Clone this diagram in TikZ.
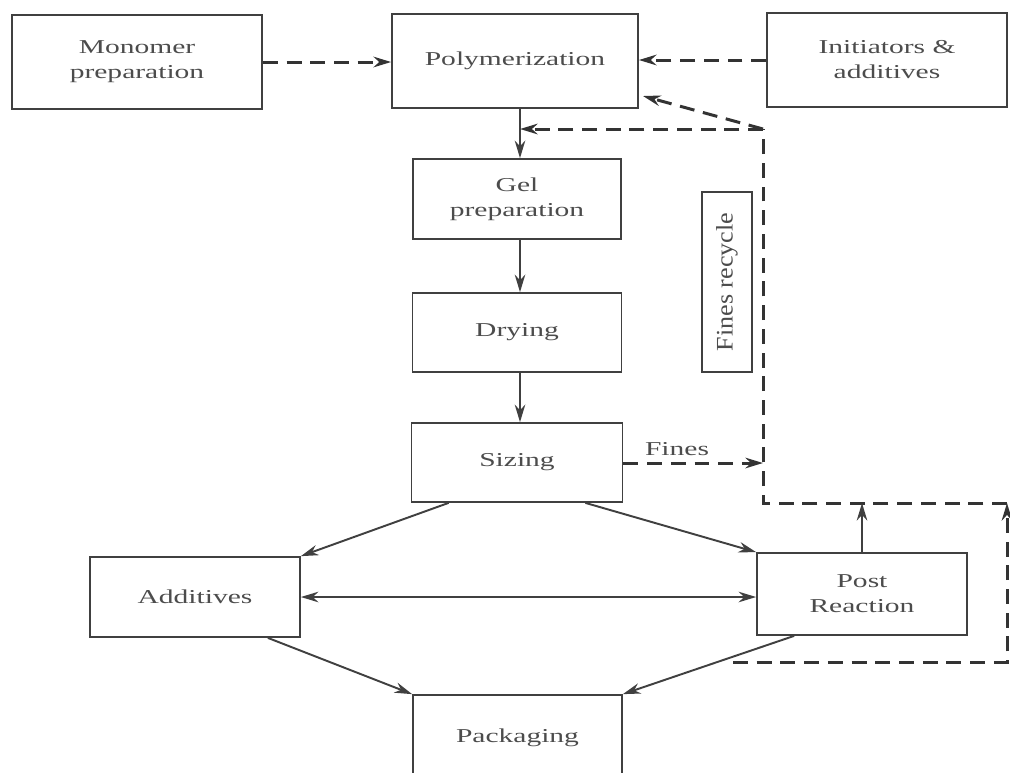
\documentclass[tikz,border=0pt]{standalone}
\usepackage{fontspec}
\setmainfont{Liberation Serif}[FakeStretch=1.5]
\newfontfamily\sidefont{Liberation Serif}[FakeStretch=1.1]
\usetikzlibrary{arrows.meta,calc}

\begin{document}
\begin{tikzpicture}[x=0.02cm, y=-0.02cm,
  box/.style={draw=black!75, line width=1pt, fill=white, align=center,
    text=black!70, inner sep=0pt, font=\fontsize{11.2}{14.2}\selectfont},
  flow/.style={draw=black!75, line width=1.1pt, -{Stealth[length=10pt,width=6pt]}},
  recyc/.style={draw=black!80, line width=1.7pt, dash pattern=on 8.5pt off 5pt},
  dflow/.style={recyc, -{Stealth[length=10pt,width=6pt]}},
  lbl/.style={text=black!70, inner sep=0pt, font=\fontsize{11.2}{14.2}\selectfont}]
\useasboundingbox (0,0) rectangle (1010,772);
\clip (0,0) rectangle (1010,772);

% top row
\node[box, minimum width=5cm, minimum height=1.88cm] (mono) at (137,62) {Monomer\\preparation};
\node[box, minimum width=4.92cm, minimum height=1.88cm] (poly) at (515,61) {Polymerization};
\node[box, minimum width=4.8cm, minimum height=1.88cm] (init) at (887,60) {Initiators \&\\additives};

% main column
\node[box, minimum width=4.16cm, minimum height=1.6cm] (gel) at (517,199) {Gel\\preparation};
\node[box, minimum width=4.18cm, minimum height=1.58cm] (dry) at (517,332.5) {Drying};
\node[box, minimum width=4.22cm, minimum height=1.58cm] (size) at (517,462.5) {Sizing};
\node[box, rotate=90, minimum width=3.6cm, minimum height=1cm,
  font=\sidefont\fontsize{13.5}{15}\selectfont] (recycle) at (727,282) {Fines recycle};

% bottom
\node[box, minimum width=4.2cm, minimum height=1.6cm] (addit) at (195,597) {Additives};
\node[box, minimum width=4.2cm, minimum height=1.64cm] (post) at (862,594) {Post\\Reaction};
\node[box, minimum width=4.18cm, minimum height=1.7cm] (pack) at (517.5,737.5) {Packaging};

\coordinate (top) at (763,129);
\coordinate (mid) at (763,503);
\coordinate (right) at (1007,503);
\coordinate (low) at (1007,662);
\coordinate (back) at (733,662);
\coordinate (finesin) at (763,463);
\coordinate (polyin) at (643,96);
\coordinate (gelin) at (520,129);
\coordinate (postout) at (862,503);

\draw[dflow] (mono.east) -- (mono.east -| poly.west);
\draw[dflow] (init.west) -- (init.west -| poly.east);

\draw[flow] (gelin |- poly.south) -- (gelin |- gel.north);
\draw[flow] (gelin |- gel.south) -- (gelin |- dry.north);
\draw[flow] (gelin |- dry.south) -- (gelin |- size.north);

% fines loop
\draw[dflow] (size.east |- finesin) -- (finesin);
\node[lbl] (fines) at (677,449) {Fines};
\draw[dflow] (back) -- (low) -- (right);
\draw[recyc] (right) -- (mid) -- (top);
\draw[dflow] (top) -- (gelin);
\draw[dflow] (top) -- (polyin);
\draw[flow] (post.north) -- (postout);

\draw[flow] ($(size.south west)+(38,0)$) -- (addit.north east);
\draw[flow] ($(size.south east)+(-38,0)$) -- (post.north west);
\draw[flow] ($(addit.south east)+(-33,0)$) -- (pack.north west);
\draw[flow] ($(post.south west)+(38,0)$) -- (pack.north east);
\draw[flow, {Stealth[length=10pt,width=6pt]}-{Stealth[length=10pt,width=6pt]}]
  (addit.east) -- (addit.east -| post.west);
\end{tikzpicture}
\end{document}
